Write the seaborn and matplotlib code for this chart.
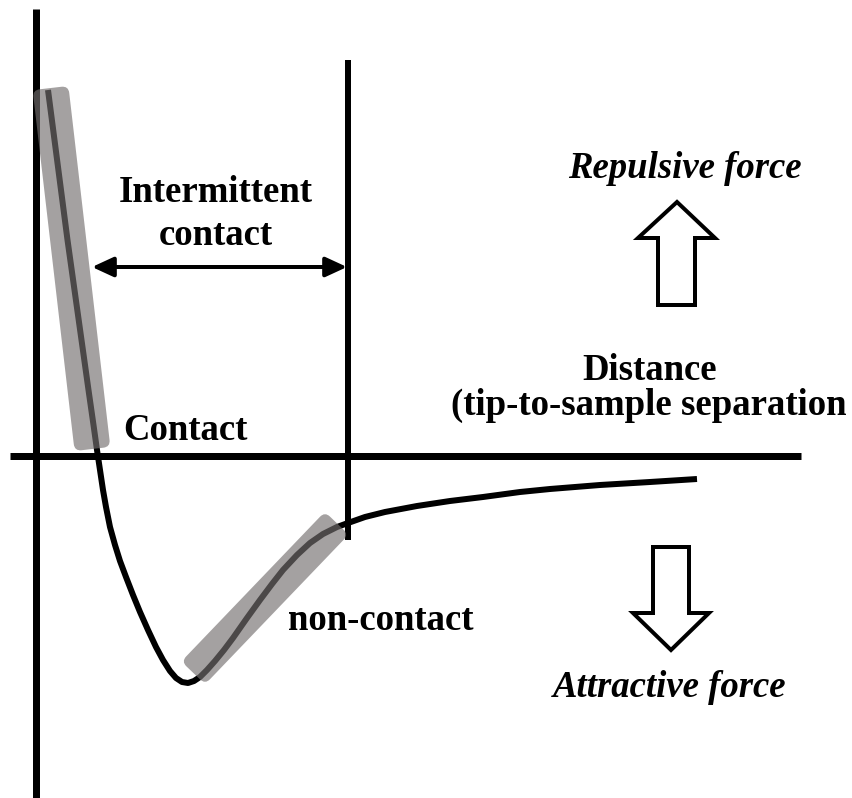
import numpy as np
import pandas as pd
import matplotlib
matplotlib.use("Agg")
import matplotlib.pyplot as plt
import seaborn as sns
from matplotlib.patches import FancyBboxPatch, Polygon, FancyArrowPatch, ArrowStyle
from matplotlib.transforms import Affine2D

# ---- data: tip-sample force curve (distance, force) ----
distance = [12.5, 19, 25.5, 32, 39, 46, 53, 58, 61.5, 64.5, 67.5, 70.5, 74.5, 79.5,
            84.5, 90.5, 97.5, 104.5, 112.5, 120.5, 127.5, 134.5, 140.5, 146.5, 152.5,
            158.5, 164.5, 171.5, 179.5, 188.5, 197.5, 211.5, 224.5, 236.5, 247.5,
            261.5, 274.5, 287.5, 301.5, 312.5, 329.5, 349.5, 381.5, 414.5, 447.5,
            484.5, 514.5, 564.5, 614.5, 661.5]
force = [365.5, 315.5, 265.5, 215.5, 165.5, 115.5, 65.5, 30.5, 5.5, -14.5, -34.5,
         -51.5, -71.5, -89.5, -105.5, -121.5, -139.5, -156.5, -174.5, -191.5, -204.5,
         -215.5, -222.5, -226.5, -227.5, -225.5, -221.5, -214.5, -205.5, -194.5,
         -182.5, -162.5, -144.5, -128.5, -114.5, -99.5, -87.5, -78.5, -71.5, -67.5,
         -61.5, -56.5, -50.5, -45.5, -41.5, -36.5, -33.5, -29.5, -26.5, -23.5]

# highlighted regimes (start/end points along the curve)
contact_zone = [(15.5, 363.5), (56.5, 10.5)]
noncontact_zone = [(160.5, -214.5), (298.5, -70.5)]

# vertical limit of the intermittent-contact regime
intermittent_edge = 312.5

labels = {
    "intermittent1": "Intermittent",
    "intermittent2": "contact",
    "contact": "Contact",
    "noncontact": "non-contact",
    "repulsive": "Repulsive force",
    "attractive": "Attractive force",
    "distance": "Distance",
    "distance2": "(tip-to-sample separation",
}

df = pd.DataFrame({"distance": distance, "force": force})

sns.set_theme(style="white")
plt.rcParams["font.family"] = ["Liberation Serif", "DejaVu Serif"]

W, H = 852, 798
fig = plt.figure(figsize=(W / 100, H / 100), dpi=100)
ax = fig.add_axes([0, 0, 1, 1])

px = 72 / 100  # points per pixel

# axes lines
ax.plot([0, 0], [455.5 - H - 5, 446.5], color="black", lw=7 * px, solid_capstyle="butt", zorder=2)
ax.plot([-25.5, 765.5], [0, 0], color="black", lw=7 * px, solid_capstyle="butt", zorder=2)
ax.plot([intermittent_edge, intermittent_edge], [-84.5, 395.5], color="black",
        lw=6 * px, solid_capstyle="butt", zorder=2)

# force curve
sns.lineplot(data=df, x="distance", y="force", sort=False, ax=ax, color="black",
             lw=6 * px, zorder=2, legend=False)
ax.lines[-1].set_solid_capstyle("butt")
ax.lines[-1].set_solid_joinstyle("round")
ax.set_xlim(-35.5, W - 35.5)
ax.set_ylim(455.5 - H, 455.5)
ax.axis("off")


def band(p0, p1, width):
    (x0, y0), (x1, y1) = p0, p1
    L = np.hypot(x1 - x0, y1 - y0)
    ang = np.arctan2(y1 - y0, x1 - x0)
    pad = 4
    patch = FancyBboxPatch((-pad, -width / 2), L + 2 * pad, width,
                           boxstyle="round,pad=0,rounding_size=7",
                           transform=Affine2D().rotate(ang).translate(x0, y0) + ax.transData,
                           fc=(116 / 255, 111 / 255, 111 / 255), alpha=0.65, ec="none", zorder=3)
    ax.add_patch(patch)


band(contact_zone[0], contact_zone[1], 36)
band(noncontact_zone[0], noncontact_zone[1], 33)

# double-headed arrow
arr = FancyArrowPatch((56.5, 188.5), (311.5, 188.5),
                      arrowstyle=ArrowStyle("<|-|>", head_length=13, head_width=6),
                      mutation_scale=1, lw=4 * px, color="black", shrinkA=0, shrinkB=0, zorder=4)
ax.add_patch(arr)

# hollow arrows
up = [(641.5, 253.5), (602.5, 217.5), (622.5, 217.5), (622.5, 150.5), (659.5, 150.5),
      (659.5, 217.5), (679.5, 217.5)]
down = [(635.5, -194.5), (597.5, -157.5), (617.5, -157.5), (617.5, -91.5), (653.5, -91.5),
        (653.5, -157.5), (673.5, -157.5)]
for pts in (up, down):
    ax.add_patch(Polygon(pts, closed=True, fc="white", ec="black", lw=4 * px,
                         joinstyle="miter", zorder=4))

fs = 26.5
bold = dict(fontsize=fs, fontweight="bold", color="black", zorder=5)
ax.text(180.5, 253.5, labels["intermittent1"], ha="center", va="baseline", **bold)
ax.text(180.5, 210.5, labels["intermittent2"], ha="center", va="baseline", **bold)
ax.text(149.5, 15.5, labels["contact"], ha="center", va="baseline", **bold)
ax.text(345.5, -174.5, labels["noncontact"], ha="center", va="baseline", **bold)
ax.text(614, 75.5, labels["distance"], ha="center", va="baseline", **bold)
ax.text(613, 40.5, labels["distance2"], ha="center", va="baseline", **bold)
ax.text(649.5, 277.5, labels["repulsive"], ha="center", va="baseline", fontstyle="italic", **bold)
ax.text(634.5, -241.5, labels["attractive"], ha="center", va="baseline", fontstyle="italic", **bold)

fig.savefig("out.png", dpi=100)
